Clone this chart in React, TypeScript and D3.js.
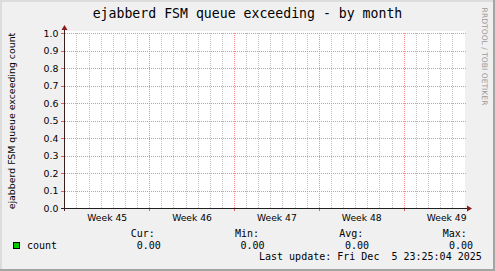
import React from "react";
import * as d3 from "d3";

const TITLE = "ejabberd FSM queue exceeding - by month";
const Y_TITLE = "ejabberd FSM queue exceeding count";
const WATERMARK = "RRDTOOL / TOBI OETIKER";
const RANGE_START = "2025-11-02T23:25:04";
const RANGE_END = "2025-12-05T23:25:04";
const yTicks = [0, 0.1, 0.2, 0.3, 0.4, 0.5, 0.6, 0.7, 0.8, 0.9, 1.0];
const yTickLabels = ["0.0", "0.1", "0.2", "0.3", "0.4", "0.5", "0.6", "0.7", "0.8", "0.9", "1.0"];
const weekStarts = ["2025-11-03T00:00:00", "2025-11-10T00:00:00", "2025-11-17T00:00:00", "2025-11-24T00:00:00", "2025-12-01T00:00:00", "2025-12-08T00:00:00"];
const weekLabels = ["Week 45", "Week 46", "Week 47", "Week 48", "Week 49"];
const sampleTimes = ["2025-11-02T23:25:04", "2025-11-10T00:00:00", "2025-11-17T00:00:00", "2025-11-24T00:00:00", "2025-12-01T00:00:00", "2025-12-05T23:25:04"];
const countValues = [0, 0, 0, 0, 0, 0];
const seriesName = "count";
const legendHeaders = ["Cur:", "Min:", "Avg:", "Max:"];
const legendValues = ["0.00", "0.00", "0.00", "0.00"];
const LAST_UPDATE = "Last update: Fri Dec  5 23:25:04 2025";

const W = 495;
const H = 271;
const PL = 64.5;
const PR = 464.5;
const PT = 33;
const PB = 208;

const MONO = "'DejaVu Sans Mono', monospace";
const SANS = "'DejaVu Sans', sans-serif";

export default function App() {
  const parse = (s: string) => new Date(s);
  const x = d3.scaleTime().domain([parse(RANGE_START), parse(RANGE_END)]).range([PL, PR]);
  const y = d3.scaleLinear().domain([0, 1]).range([PB, PT]);
  const px = (v: number) => Math.floor(v) + 0.5;
  const py = (v: number) => Math.round(v) + 0.5;

  const [d0, d1] = x.domain();
  const dayTicks = d3.timeDay.range(d3.timeDay.ceil(d0), d1);
  const weekDates = weekStarts.map(parse);
  const majorX = weekDates.filter((d) => d.getTime() > d0.getTime() && d.getTime() < d1.getTime());
  const majorSet = new Set(majorX.map((d) => d.getTime()));
  const minorX = dayTicks.filter((d) => !majorSet.has(d.getTime()));

  const pts = sampleTimes.map((t, i) => ({ t: parse(t), v: countValues[i] }));
  const line = d3.line<{ t: Date; v: number }>().x((d) => x(d.t)).y((d) => py(y(d.v)));

  const legendHeaderX = [130.7, 235, 339.3, 442.7];
  const legendValueX = [136.7, 240.5, 345, 449];

  return (
    <svg width={W} height={H} style={{ position: "absolute", left: 0, top: 0 }} xmlns="http://www.w3.org/2000/svg">
      <rect x={0} y={0} width={W} height={H} fill="#F0F0F0" />
      {/* frame */}
      <rect x={0} y={0} width={W} height={2} fill="#DCDCDC" />
      <rect x={0} y={0} width={2} height={H} fill="#DCDCDC" />
      <rect x={0} y={H - 2} width={W} height={2} fill="#A4A4A4" />
      <rect x={W - 2} y={0} width={2} height={H} fill="#A4A4A4" />

      {/* title */}
      <text x={247.5} y={18} textAnchor="middle" fontFamily={MONO} fontSize={13.2} fill="#000">
        {TITLE}
      </text>

      {/* plot canvas */}
      <rect x={64} y={31} width={401} height={177} fill="#FFFFFF" />

      {/* minor vertical grid */}
      {minorX.map((d, i) => (
        <line key={"mv" + i} x1={px(x(d))} x2={px(x(d))} y1={PT} y2={PB} stroke="#C4C4C4" strokeWidth={1} strokeDasharray="1,1" shapeRendering="crispEdges" />
      ))}
      {/* major vertical grid */}
      {majorX.map((d, i) => (
        <g key={"Mv" + i}>
          <line x1={px(x(d))} x2={px(x(d))} y1={PT} y2={PB} stroke="#F08C8C" strokeWidth={1} strokeDasharray="1,1" shapeRendering="crispEdges" />
          <line x1={px(x(d))} x2={px(x(d))} y1={PB} y2={PB + 3} stroke="#E06060" strokeWidth={1} shapeRendering="crispEdges" />
        </g>
      ))}
      {/* horizontal grid */}
      {yTicks.map((v, i) => (
        <g key={"h" + i}>
          {v > 0 && (
            <line x1={PL} x2={PR + 1} y1={py(y(v))} y2={py(y(v))} stroke="#F08C8C" strokeWidth={1} strokeDasharray="1,1" shapeRendering="crispEdges" />
          )}
          <line x1={61} x2={64} y1={py(y(v))} y2={py(y(v))} stroke={v > 0 ? "#E06060" : "#333"} strokeWidth={1} shapeRendering="crispEdges" />
        </g>
      ))}

      {/* data */}
      <path d={line(pts) || ""} fill="none" stroke="#00CC00" strokeWidth={1} />

      {/* axes */}
      <line x1={61} x2={468} y1={py(PB)} y2={py(PB)} stroke="#202020" strokeWidth={1} shapeRendering="crispEdges" />
      <line x1={64.5} x2={64.5} y1={29} y2={211} stroke="#3a2020" strokeWidth={1} shapeRendering="crispEdges" />
      <path d={`M 467 ${py(PB) - 3} L 472 ${py(PB)} L 467 ${py(PB) + 3} Z`} fill="#8B1A1A" />
      <path d={`M ${64.5 - 3} 30 L 64.5 25 L ${64.5 + 3} 30 Z`} fill="#8B1A1A" />

      {/* y tick labels */}
      {yTicks.map((v, i) => (
        <text key={"yl" + i} x={58.5} y={y(v) + 3.5} textAnchor="end" fontFamily={SANS} fontSize={9.4} fill="#000">
          {yTickLabels[i]}
        </text>
      ))}

      {/* week labels */}
      {weekLabels.map((lab, i) => {
        const mid = new Date((weekDates[i].getTime() + weekDates[i + 1].getTime()) / 2);
        return (
          <text key={"wl" + i} x={x(mid)} y={221} textAnchor="middle" fontFamily={SANS} fontSize={9.2} fill="#000">
            {lab}
          </text>
        );
      })}

      {/* y axis title */}
      <text transform={`translate(14.5, ${(PT + PB) / 2 + 0.5}) rotate(-90)`} textAnchor="middle" fontFamily={SANS} fontSize={9.4} fill="#000">
        {Y_TITLE}
      </text>

      {/* watermark */}
      <text transform={`translate(481.5, 56.5) rotate(90)`} textAnchor="middle" fontFamily={SANS} fontSize={7.6} fill="#9A9A9A">
        {WATERMARK}
      </text>

      {/* legend */}
      <rect x={13.5} y={242.5} width={6} height={6} fill="#00CC00" stroke="#000" strokeWidth={1} />
      <text x={27} y={249} fontFamily={MONO} fontSize={10} fill="#000">{seriesName}</text>
      {legendHeaders.map((h, i) => (
        <text key={"lh" + i} x={legendHeaderX[i]} y={237} fontFamily={MONO} fontSize={10} fill="#000">{h}</text>
      ))}
      {legendValues.map((v, i) => (
        <text key={"lv" + i} x={legendValueX[i]} y={249} fontFamily={MONO} fontSize={10} fill="#000">{v}</text>
      ))}
      <text x={259} y={260} fontFamily={MONO} fontSize={10} fill="#000" style={{ whiteSpace: "pre" }} xmlSpace="preserve">
        {LAST_UPDATE}
      </text>
    </svg>
  );
}
